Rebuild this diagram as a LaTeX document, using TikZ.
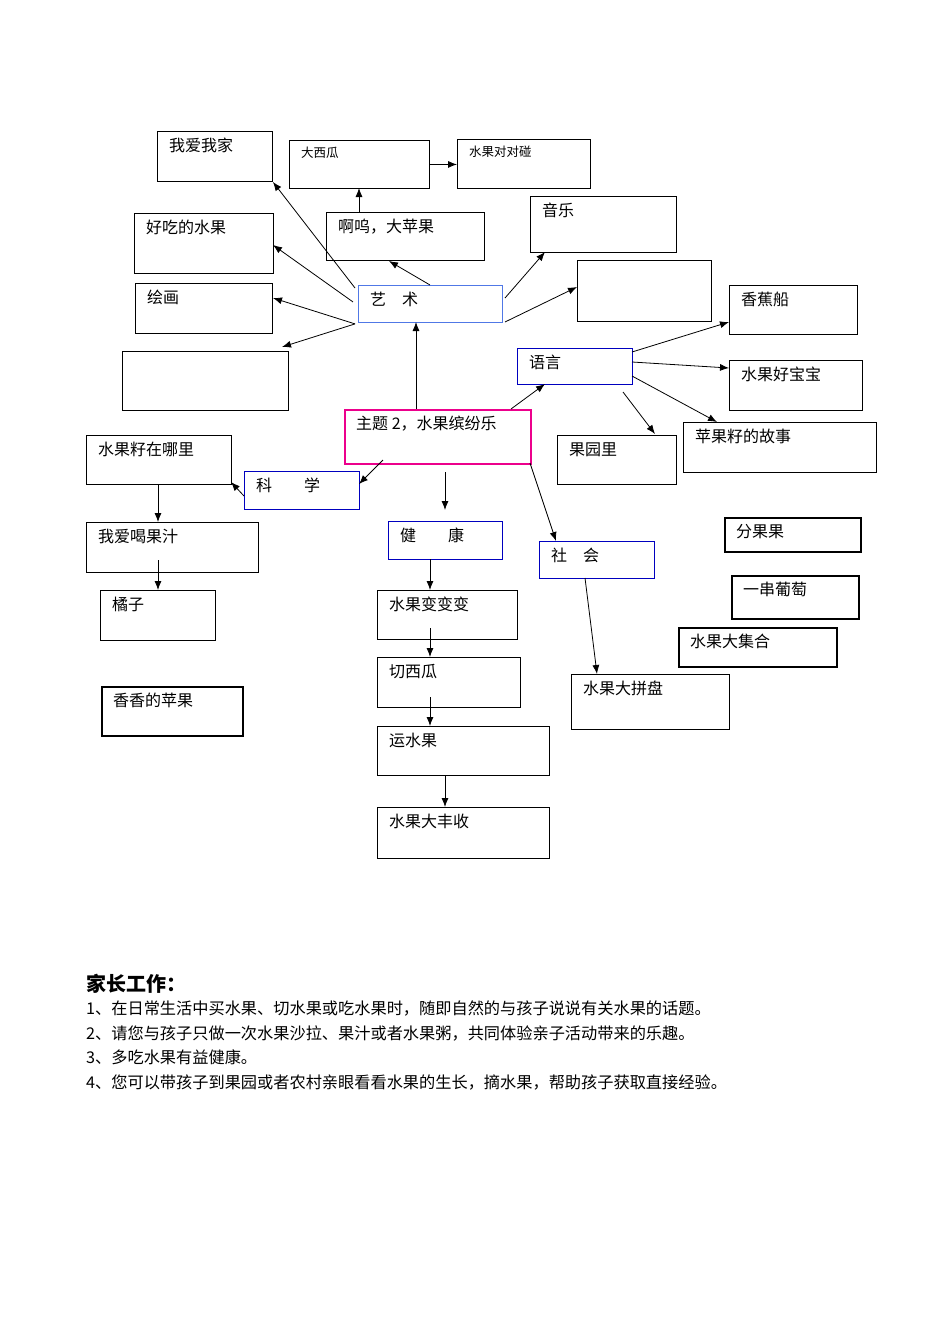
\documentclass[tikz,border=0pt]{standalone}
\usepackage{fontspec}
\newfontfamily\cjk{Noto Sans CJK SC}
\usetikzlibrary{arrows.meta}
\newcommand{\bx}[7]{\node[box,#7,minimum width=#4-#2,minimum height=#5-#3,anchor=north west,
  label={[lbl]north west:#6}] (#1) at (#2,#3) {};}
\begin{document}
\begin{tikzpicture}[x=1pt,y=-1pt,font=\cjk\fontsize{16}{19}\selectfont,
  box/.style={draw,line width=0.9pt,inner sep=0pt},
  lbl/.style={anchor=north west,xshift=12pt,yshift=-7pt,inner sep=0pt},
  blu/.style={draw=blue!75!black},
  lblu/.style={draw={rgb,255:red,80;green,120;blue,230}},
  mag/.style={draw=magenta,line width=1.5pt},
  thk/.style={line width=2pt},
  sm/.style={label={[lbl,font=\cjk\fontsize{12.5}{14}\selectfont]north west:#1}},
  arr/.style={-{Latex[length=9pt,width=7pt]},line width=0.8pt}]
\useasboundingbox (0,0) rectangle (950,1344);
\bx{a1}{157}{131}{272}{181}{我爱我家}{}
\bx{a2}{289}{140}{429}{188}{}{sm=大西瓜}
\bx{a3}{457}{139}{590}{188}{}{sm=水果对对碰}
\bx{a4}{134}{213}{273}{273}{好吃的水果}{}
\bx{a5}{326}{212}{484}{260}{啊呜，大苹果}{}
\bx{a6}{530}{196}{676}{252}{音乐}{}
\bx{ys}{358}{285}{502}{322}{艺\quad 术}{lblu}
\bx{a7}{577}{260}{711}{321}{}{}
\bx{a8}{135}{283}{272}{333}{绘画}{}
\bx{a9}{122}{351}{288}{410}{}{}
\bx{b1}{729}{285}{857}{334}{香蕉船}{}
\bx{yy}{517}{348}{632}{384}{语言}{blu}
\bx{b2}{729}{360}{862}{410}{水果好宝宝}{}
\bx{zt}{344}{409}{530}{463}{主题 2，水果缤纷乐}{mag}
\bx{b3}{557}{435}{676}{484}{果园里}{}
\bx{b4}{683}{422}{876}{472}{苹果籽的故事}{}
\bx{c1}{86}{435}{231}{484}{水果籽在哪里}{}
\bx{kx}{244}{471}{359}{509}{科\qquad 学}{blu}
\bx{d1}{724}{517}{860}{551}{分果果}{thk}
\bx{c2}{86}{522}{258}{572}{我爱喝果汁}{}
\bx{jk}{388}{521}{502}{559}{健\qquad 康}{blu}
\bx{sh}{539}{541}{654}{578}{社\quad 会}{blu}
\bx{d2}{731}{575}{858}{618}{一串葡萄}{thk}
\bx{c3}{100}{590}{215}{640}{橘子}{}
\bx{e1}{377}{590}{517}{639}{水果变变变}{}
\bx{d3}{678}{627}{836}{666}{水果大集合}{thk}
\bx{e2}{377}{657}{520}{707}{切西瓜}{}
\bx{f1}{571}{674}{729}{729}{水果大拼盘}{}
\bx{c4}{101}{686}{242}{735}{香香的苹果}{thk}
\bx{e3}{377}{726}{549}{775}{运水果}{}
\bx{e4}{377}{807}{549}{858}{水果大丰收}{}
% arrows
\draw[arr] (ys.north west) ++(-3,3) -- (a1.south east);
\draw[arr] (ys.west) ++(-5,-2) -- (273,245);
\draw[arr] (ys.south west) ++(-3,1) -- (273,298);
\draw[arr] (ys.south west) ++(-3,1) -- (282,347);
\draw[arr] (430,285) -- (389,261);
\draw[arr] (359,212) -- (359,188);
\draw[arr] (a2.east) -- (a3.west |- a2.east);
\draw[arr] (505,298) -- (545,252);
\draw[arr] (505,322) -- (577,287);
\draw[arr] (416,409) -- (416,322);
\draw[arr] (511,409) -- (545,384);
\draw[arr] (383,460) -- (359,484);
\draw[arr] (244,496) -- (231,482);
\coordinate (dn1) at (445,472); \coordinate (dn2) at (445,510);
\draw[arr] (dn1) -- (dn2);
\draw[arr] (530,463) -- (556,541);
\draw[arr] (632,352) -- (729,322);
\draw[arr] (632,362) -- (729,368);
\draw[arr] (632,376) -- (717,422);
\coordinate (gy) at (623,392);
\draw[arr] (gy) -- (655,434);
\draw[arr] (158,484) -- (158,522);
\draw[arr] (158,560) -- (158,590);
\draw[arr] (430,559) -- (430,590);
\draw[arr] (430,628) -- (430,657);
\draw[arr] (430,697) -- (430,726);
\draw[arr] (445,775) -- (445,807);
\draw[arr] (585,578) -- (597,674);
% bottom text
\begin{scope}[every node/.style={anchor=west,inner sep=0pt,font=\cjk\fontsize{16.2}{19}\selectfont}]
\node[font=\cjk\fontsize{20}{24}\selectfont\bfseries] (pt) at (86,984) {家长工作：};
\node (l1) at (86,1008) {1、在日常生活中买水果、切水果或吃水果时，随即自然的与孩子说说有关水果的话题。};
\node (l2) at (86,1033) {2、请您与孩子只做一次水果沙拉、果汁或者水果粥，共同体验亲子活动带来的乐趣。};
\node (l3) at (86,1057) {3、多吃水果有益健康。};
\node (l4) at (86,1082) {4、您可以带孩子到果园或者农村亲眼看看水果的生长，摘水果，帮助孩子获取直接经验。};
\end{scope}
\end{tikzpicture}
\end{document}
